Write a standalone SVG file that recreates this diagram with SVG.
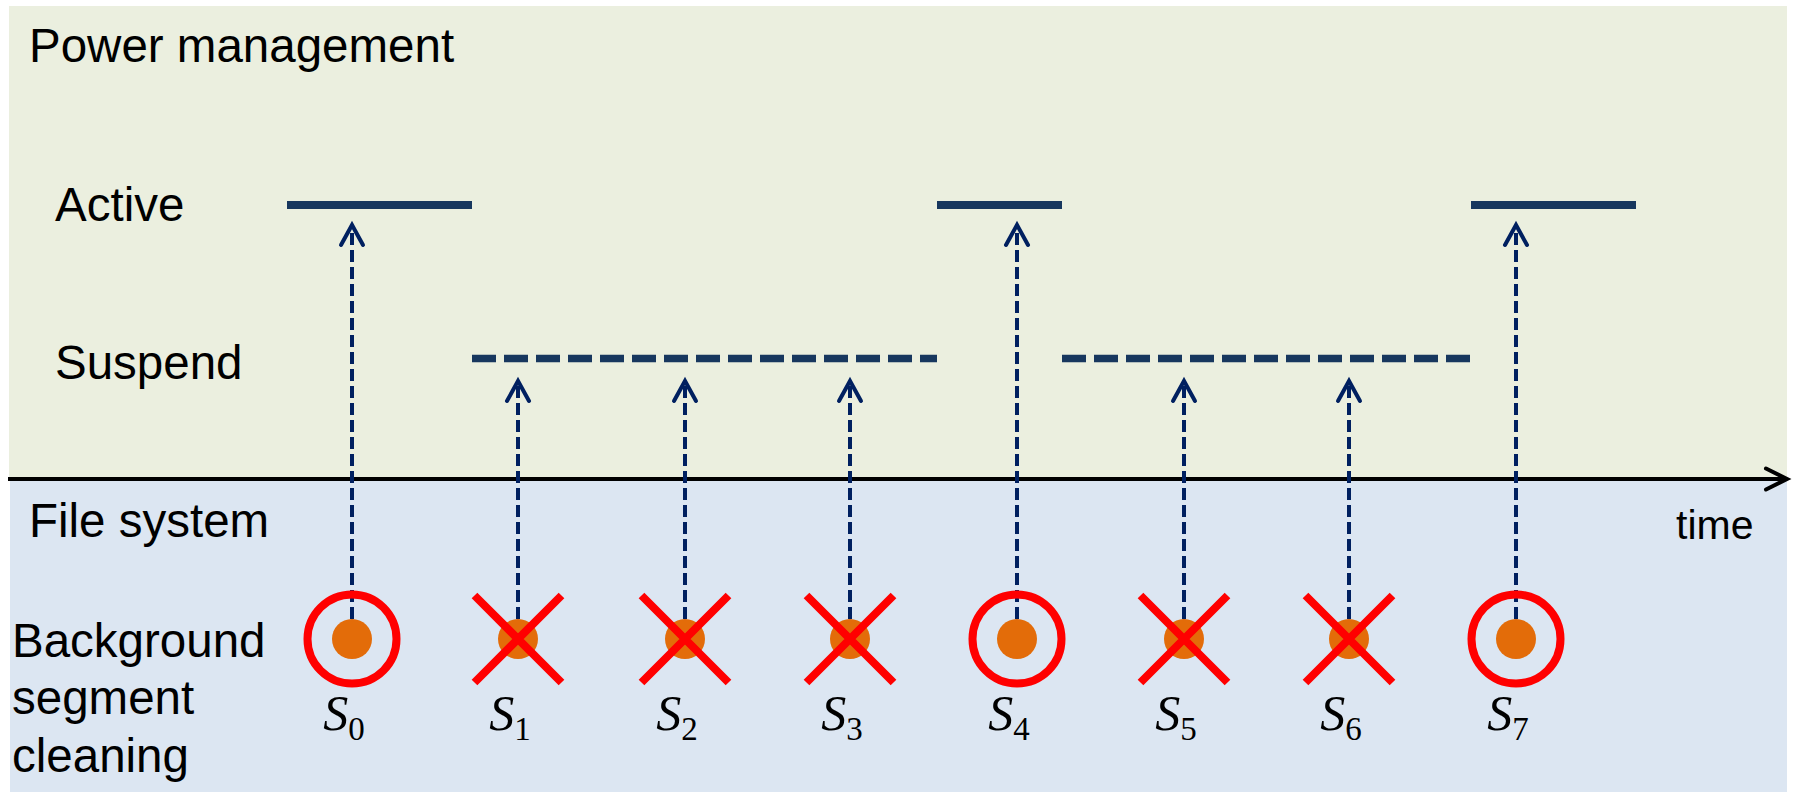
<svg xmlns="http://www.w3.org/2000/svg" width="1794" height="792" viewBox="0 0 1794 792">
  <style>
    .lbl { font-family: "Liberation Sans", Arial, sans-serif; font-size: 47.5px; fill: #000; }
    .seg { font-family: "Liberation Serif", "Times New Roman", serif; font-style: italic; font-size: 50px; fill: #000; text-anchor: middle; }
    .sub { font-style: normal; font-size: 33px; }
    .active { stroke: #17375E; stroke-width: 8; fill: none; }
    .suspend { stroke: #17375E; stroke-width: 7.5; fill: none; stroke-dasharray: 24 8; }
    .link { stroke: #002060; stroke-width: 4; fill: none; stroke-dasharray: 12 5; }
    .head { stroke: #002060; stroke-width: 4; fill: none; stroke-linecap: round; stroke-linejoin: miter; }
    .dot { fill: #E36C09; }
    .ring { fill: none; stroke: #FF0000; stroke-width: 8; }
    .cross { stroke: #FF0000; stroke-width: 8; stroke-linecap: butt; }
  </style>

  <!-- background panels -->
  <rect width="1794" height="792" fill="#FFFFFF"/>
  <rect id="power-panel" x="9" y="6" width="1778" height="473" fill="#EBEFDF"/>
  <rect id="fs-panel" x="10" y="479" width="1777" height="313" fill="#DCE6F2"/>

  <!-- panel and level labels -->
  <g id="labels">
    <text class="lbl" x="29" y="62">Power management</text>
    <text class="lbl" x="55" y="221">Active</text>
    <text class="lbl" x="55" y="379">Suspend</text>
    <text class="lbl" x="29" y="537">File system</text>
    <text class="lbl" x="12" y="657">Background</text>
    <text class="lbl" x="12" y="714">segment</text>
    <text class="lbl" x="12" y="772">cleaning</text>
    <text class="lbl" x="1676" y="539" style="font-size:41px">time</text>
  </g>

  <!-- power state levels -->
  <g id="levels">
    <path class="active" d="M287 205 H472"/>
    <path class="suspend" d="M472 358.5 H937"/>
    <path class="active" d="M937 205 H1062"/>
    <path class="suspend" d="M1062 358.5 H1470"/>
    <path class="active" d="M1471 205 H1636"/>
  </g>

  <!-- time axis -->
  <g id="axis">
    <path d="M8 479 H1785" stroke="#000" stroke-width="4" fill="none"/>
    <path d="M1766 468.5 L1787 479 L1766 489.5" stroke="#000" stroke-width="4" fill="none" stroke-linecap="round"/>
  </g>

  <!-- connectors from segments to power states -->
  <g id="connectors">
    <path class="link" d="M352 619 V228"/>
    <path class="head" d="M341 245 L352 225 L363 245"/>
    <path class="link" d="M518 619 V384"/>
    <path class="head" d="M507 401 L518 381 L529 401"/>
    <path class="link" d="M685 619 V384"/>
    <path class="head" d="M674 401 L685 381 L696 401"/>
    <path class="link" d="M850 619 V384"/>
    <path class="head" d="M839 401 L850 381 L861 401"/>
    <path class="link" d="M1017 619 V228"/>
    <path class="head" d="M1006 245 L1017 225 L1028 245"/>
    <path class="link" d="M1184 619 V384"/>
    <path class="head" d="M1173 401 L1184 381 L1195 401"/>
    <path class="link" d="M1349 619 V384"/>
    <path class="head" d="M1338 401 L1349 381 L1360 401"/>
    <path class="link" d="M1516 619 V228"/>
    <path class="head" d="M1505 245 L1516 225 L1527 245"/>
  </g>

  <!-- segments -->
  <g id="S0">
    <circle class="dot" cx="352" cy="639" r="20"/>
    <circle class="ring" cx="352" cy="639" r="44.5"/>
    <text class="seg" x="344" y="730">S<tspan class="sub" dy="10">0</tspan></text>
  </g>
  <g id="S1">
    <circle class="dot" cx="518" cy="639" r="20"/>
    <path class="cross" d="M474.5 595.5 L561.5 682.5 M561.5 595.5 L474.5 682.5"/>
    <text class="seg" x="510" y="730">S<tspan class="sub" dy="10">1</tspan></text>
  </g>
  <g id="S2">
    <circle class="dot" cx="685" cy="639" r="20"/>
    <path class="cross" d="M641.5 595.5 L728.5 682.5 M728.5 595.5 L641.5 682.5"/>
    <text class="seg" x="677" y="730">S<tspan class="sub" dy="10">2</tspan></text>
  </g>
  <g id="S3">
    <circle class="dot" cx="850" cy="639" r="20"/>
    <path class="cross" d="M806.5 595.5 L893.5 682.5 M893.5 595.5 L806.5 682.5"/>
    <text class="seg" x="842" y="730">S<tspan class="sub" dy="10">3</tspan></text>
  </g>
  <g id="S4">
    <circle class="dot" cx="1017" cy="639" r="20"/>
    <circle class="ring" cx="1017" cy="639" r="44.5"/>
    <text class="seg" x="1009" y="730">S<tspan class="sub" dy="10">4</tspan></text>
  </g>
  <g id="S5">
    <circle class="dot" cx="1184" cy="639" r="20"/>
    <path class="cross" d="M1140.5 595.5 L1227.5 682.5 M1227.5 595.5 L1140.5 682.5"/>
    <text class="seg" x="1176" y="730">S<tspan class="sub" dy="10">5</tspan></text>
  </g>
  <g id="S6">
    <circle class="dot" cx="1349" cy="639" r="20"/>
    <path class="cross" d="M1305.5 595.5 L1392.5 682.5 M1392.5 595.5 L1305.5 682.5"/>
    <text class="seg" x="1341" y="730">S<tspan class="sub" dy="10">6</tspan></text>
  </g>
  <g id="S7">
    <circle class="dot" cx="1516" cy="639" r="20"/>
    <circle class="ring" cx="1516" cy="639" r="44.5"/>
    <text class="seg" x="1508" y="730">S<tspan class="sub" dy="10">7</tspan></text>
  </g>
</svg>
